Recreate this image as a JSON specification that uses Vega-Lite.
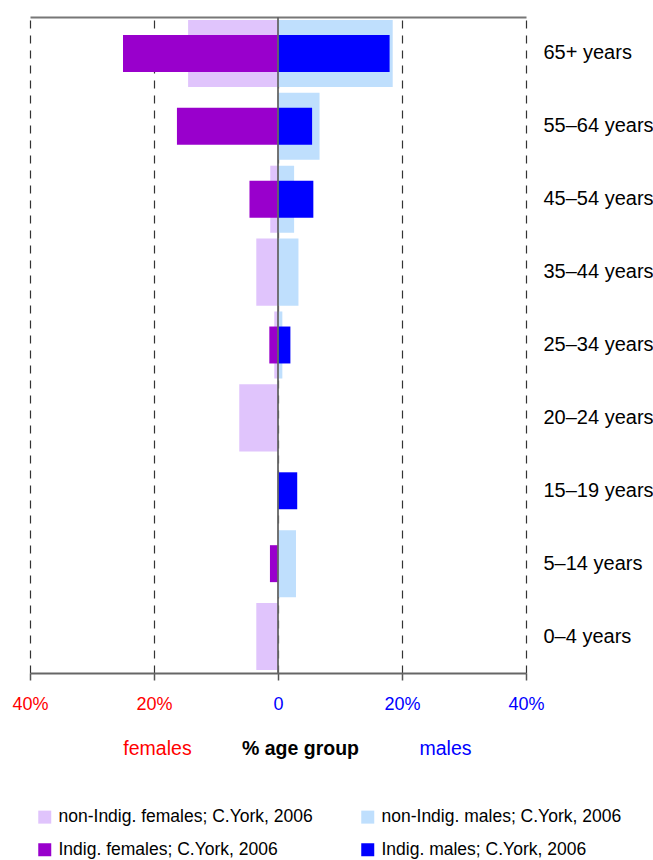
{
  "$schema": "https://vega.github.io/schema/vega-lite/v6.json",
  "width": 496,
  "height": 656,
  "autosize": "none",
  "padding": {"left": 30, "top": 17, "right": 127, "bottom": 187},
  "config": {"view": {"stroke": null}, "font": "Liberation Sans"},
  "datasets": {
    "pop": [
      {"age": "65+ years", "kind": "non-Indig", "series": "non-Indig. females; C.York, 2006", "value": -14.5},
      {"age": "65+ years", "kind": "non-Indig", "series": "non-Indig. males; C.York, 2006", "value": 18.5},
      {"age": "65+ years", "kind": "Indig", "series": "Indig. females; C.York, 2006", "value": -25.0},
      {"age": "65+ years", "kind": "Indig", "series": "Indig. males; C.York, 2006", "value": 18.0},
      {"age": "55–64 years", "kind": "non-Indig", "series": "non-Indig. males; C.York, 2006", "value": 6.7},
      {"age": "55–64 years", "kind": "Indig", "series": "Indig. females; C.York, 2006", "value": -16.3},
      {"age": "55–64 years", "kind": "Indig", "series": "Indig. males; C.York, 2006", "value": 5.5},
      {"age": "45–54 years", "kind": "non-Indig", "series": "non-Indig. females; C.York, 2006", "value": -1.25},
      {"age": "45–54 years", "kind": "non-Indig", "series": "non-Indig. males; C.York, 2006", "value": 2.6},
      {"age": "45–54 years", "kind": "Indig", "series": "Indig. females; C.York, 2006", "value": -4.6},
      {"age": "45–54 years", "kind": "Indig", "series": "Indig. males; C.York, 2006", "value": 5.7},
      {"age": "35–44 years", "kind": "non-Indig", "series": "non-Indig. females; C.York, 2006", "value": -3.5},
      {"age": "35–44 years", "kind": "non-Indig", "series": "non-Indig. males; C.York, 2006", "value": 3.3},
      {"age": "25–34 years", "kind": "non-Indig", "series": "non-Indig. females; C.York, 2006", "value": -0.6},
      {"age": "25–34 years", "kind": "non-Indig", "series": "non-Indig. males; C.York, 2006", "value": 0.7},
      {"age": "25–34 years", "kind": "Indig", "series": "Indig. females; C.York, 2006", "value": -1.4},
      {"age": "25–34 years", "kind": "Indig", "series": "Indig. males; C.York, 2006", "value": 2.0},
      {"age": "20–24 years", "kind": "non-Indig", "series": "non-Indig. females; C.York, 2006", "value": -6.25},
      {"age": "15–19 years", "kind": "Indig", "series": "Indig. males; C.York, 2006", "value": 3.1},
      {"age": "5–14 years", "kind": "non-Indig", "series": "non-Indig. males; C.York, 2006", "value": 2.9},
      {"age": "5–14 years", "kind": "Indig", "series": "Indig. females; C.York, 2006", "value": -1.3},
      {"age": "0–4 years", "kind": "non-Indig", "series": "non-Indig. females; C.York, 2006", "value": -3.5}
    ],
    "zero": [{"x": 0}]
  },
  "resolve": {"scale": {"x": "independent"}},
  "layer": [
    {
      "data": {"name": "pop"},
      "transform": [{"filter": "datum.kind == 'non-Indig'"}],
      "mark": {"type": "bar", "height": {"band": 0.92}},
      "encoding": {
        "x": {
          "field": "value", "type": "quantitative",
          "scale": {"domain": [-40, 40], "nice": false, "zero": false},
          "axis": {
            "orient": "bottom",
            "values": [-40, -20, 0, 20, 40],
            "labelExpr": "datum.value == 0 ? '0' : abs(datum.value) + '%'",
            "labelColor": {"condition": {"test": "datum.value < 0", "value": "#FF0000"}, "value": "#0000FF"},
            "labelFontSize": 18,
            "labelPadding": 15,
            "labelFlush": false,
            "tickSize": 7,
            "tickColor": "#555555",
            "tickWidth": 1.5,
            "domainColor": "#666666",
            "domainWidth": 2,
            "grid": true,
            "gridDash": [8, 7],
            "gridColor": "#333333",
            "gridWidth": 1.2,
            "gridOpacity": 1,
            "title": "% age group",
            "titleFontSize": 19.5,
            "titleFontWeight": "bold",
            "titleColor": "#000000",
            "titleX": 270,
            "titleY": 81,
            "titleAlign": "center",
            "titleBaseline": "alphabetic"
          }
        },
        "y": {
          "field": "age", "type": "nominal",
          "scale": {
            "domain": ["65+ years", "55–64 years", "45–54 years", "35–44 years", "25–34 years", "20–24 years", "15–19 years", "5–14 years", "0–4 years"],
            "paddingInner": 0, "paddingOuter": 0
          },
          "axis": {
            "orient": "right", "domain": false, "ticks": false, "title": null,
            "labelPadding": 17, "labelFontSize": 20, "labelColor": "#000000", "labelAlign": "left", "labelBaseline": "middle"
          }
        },
        "color": {
          "field": "series", "type": "nominal",
          "scale": {
            "domain": ["non-Indig. females; C.York, 2006", "non-Indig. males; C.York, 2006", "Indig. females; C.York, 2006", "Indig. males; C.York, 2006"],
            "range": ["#E0C4FC", "#BFDFFD", "#9900CC", "#0000FF"]
          },
          "legend": {
            "orient": "none", "legendX": 6, "legendY": 791, "columns": 2, "direction": "horizontal",
            "title": null, "symbolType": "square", "symbolSize": 169, "symbolStrokeWidth": 0, "symbolOpacity": 1,
            "labelFontSize": 17.5, "labelColor": "#000000", "labelLimit": 400, "labelOffset": 5,
            "rowPadding": 14, "columnPadding": 46
          }
        }
      }
    },
    {
      "data": {"name": "pop"},
      "transform": [{"filter": "datum.kind == 'Indig'"}],
      "mark": {"type": "bar", "height": {"band": 0.507}},
      "encoding": {
        "x": {
          "field": "value", "type": "quantitative",
          "scale": {"domain": [-40, 40], "nice": false, "zero": false},
          "axis": {
            "orient": "top", "labels": false, "ticks": false, "grid": false,
            "domain": true, "domainColor": "#777777", "domainWidth": 2,
            "title": "females", "titleFontSize": 19.5, "titleFontWeight": "normal", "titleColor": "#FF0000",
            "titleX": 127, "titleY": 737, "titleAlign": "center", "titleBaseline": "alphabetic"
          }
        },
        "y": {"field": "age", "type": "nominal"},
        "color": {"field": "series", "type": "nominal"}
      }
    },
    {
      "data": {"name": "zero"},
      "mark": {"type": "rule", "color": "#666666", "strokeWidth": 2, "opacity": 0.9},
      "encoding": {
        "x": {
          "field": "x", "type": "quantitative",
          "scale": {"domain": [-40, 40], "nice": false, "zero": false},
          "axis": {
            "orient": "bottom", "labels": false, "ticks": false, "grid": false, "domain": false,
            "title": "males", "titleFontSize": 19.5, "titleFontWeight": "normal", "titleColor": "#0000FF",
            "titleX": 415, "titleY": 81, "titleAlign": "center", "titleBaseline": "alphabetic"
          }
        }
      }
    }
  ]
}
